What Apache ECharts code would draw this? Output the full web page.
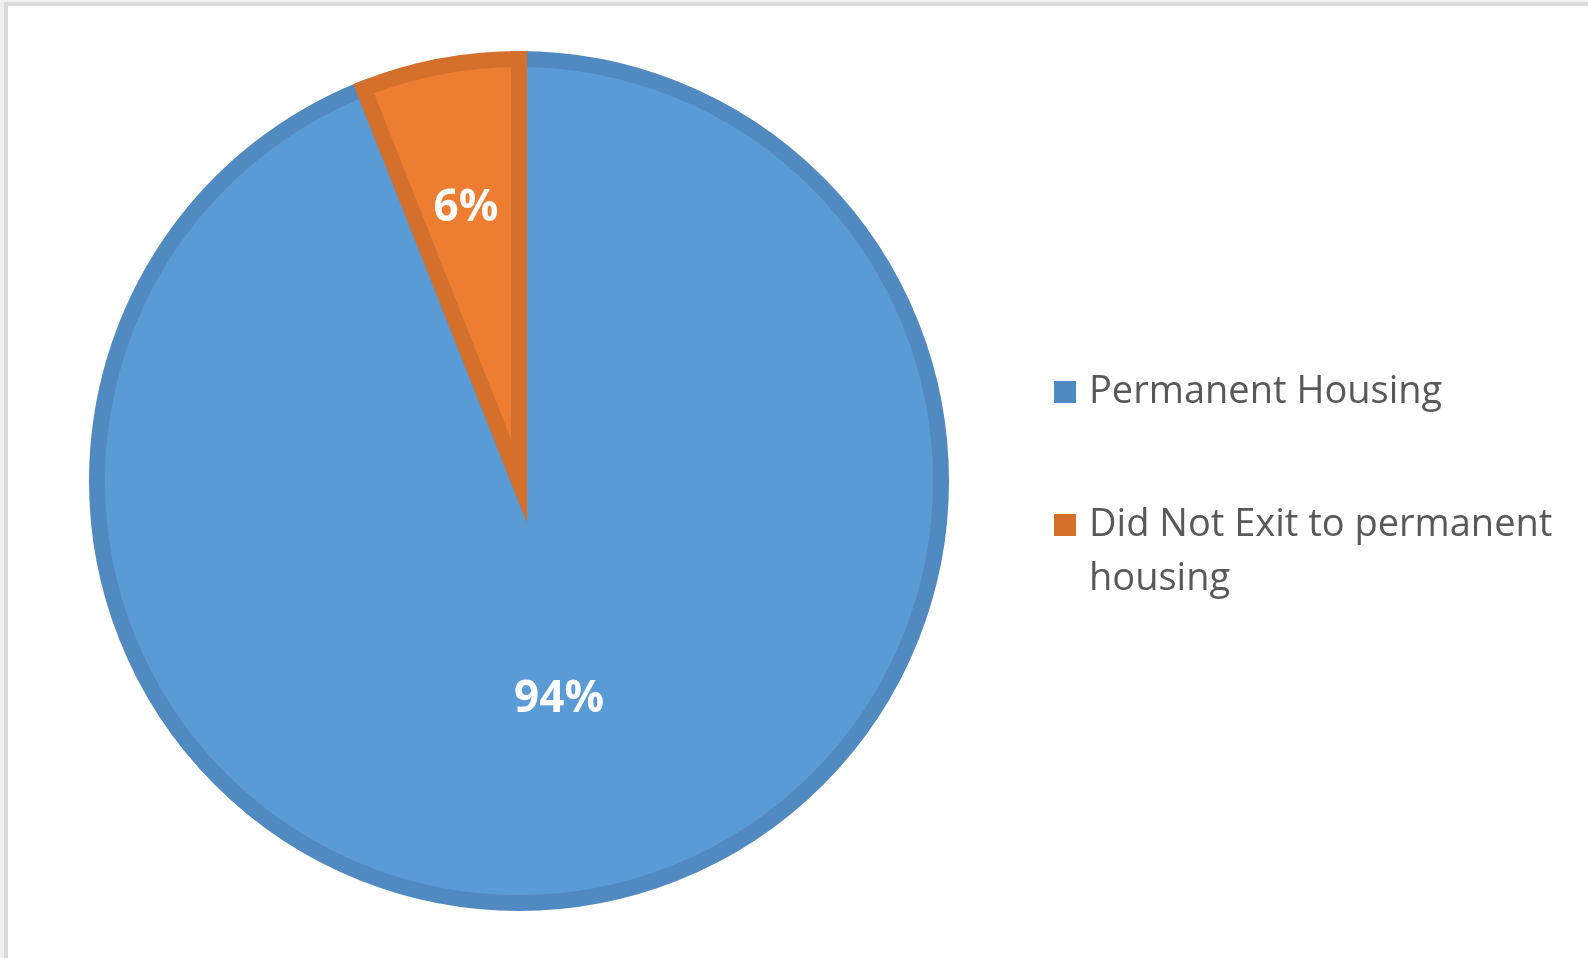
<!DOCTYPE html>
<html>
<head>
<meta charset="utf-8">
<script src="https://cdn.jsdelivr.net/npm/echarts@6/dist/echarts.min.js"></script>
<style>
  html, body { margin: 0; padding: 0; background: #f0f0f0; }
  #chart-frame {
    position: absolute; left: 4px; top: 2px; right: 0; bottom: 0;
    border-left: 4px solid #d9d9d9; border-top: 4px solid #d9d9d9;
    background: #ffffff;
  }
  #chart-container { width: 100%; height: 100%; }
</style>
</head>
<body>
<div id="chart-frame"><div id="chart-container"></div></div>
<script>
var categories = ['Permanent Housing', 'Did Not Exit to permanent housing'];
var shares     = [94, 6];
var fillColors   = ['#5b9bd5', '#ed7d31'];
var borderColors = ['#508ac1', '#d4702c'];

var chart;
var pieData = categories.map(function (name, i) {
    var item = {
        name: name,
        value: shares[i],
        itemStyle: { color: fillColors[i], borderColor: borderColors[i] }
    };
    // nudge labels to where the original puts them
    item.label = { offset: i === 0 ? [0, 8] : [-13, -62] };
    return item;
});

function legendFor(i, top, wrapped) {
    return {
        orient: 'vertical',
        left: 1041,
        top: top,
        itemWidth: 22,
        itemHeight: 22,
        icon: 'rect',
        itemStyle: { borderWidth: 0 },
        data: [{ name: categories[i], itemStyle: { color: borderColors[i] } }],
        // wrapped name: an empty first line keeps the key level with the text's first line
        formatter: wrapped ? function (name) { return '\n' + name; } : '{name}',
        textStyle: {
            fontFamily: 'Open Sans',
            fontSize: 38,
            color: '#595959',
            width: 500,
            overflow: 'break',
            lineHeight: 54,
            padding: [0, 0, 0, 8]
        }
    };
}

var pieOptions = {
    animation: false,
    legend: [legendFor(0, 354, false), legendFor(1, 433, true)],
    series: {
        type: 'pie',
        center: [511, 475],
        radius: 422,
        startAngle: 90,
        clockwise: true,
        data: pieData,
        itemStyle: {
            borderWidth: 16,
            borderJoin: 'miter',
            borderMiterLimit: 10
        },
        label: {
            show: true,
            position: 'inside',
            formatter: '{c}%',
            color: '#ffffff',
            fontFamily: 'Open Sans',
            fontWeight: 'bold',
            fontSize: 44
        },
        labelLine: { show: false },
        emphasis: { disabled: true }
    }
};

chart = echarts.init(document.getElementById('chart-container'));
chart.setOption(pieOptions);
</script>
</body>
</html>
